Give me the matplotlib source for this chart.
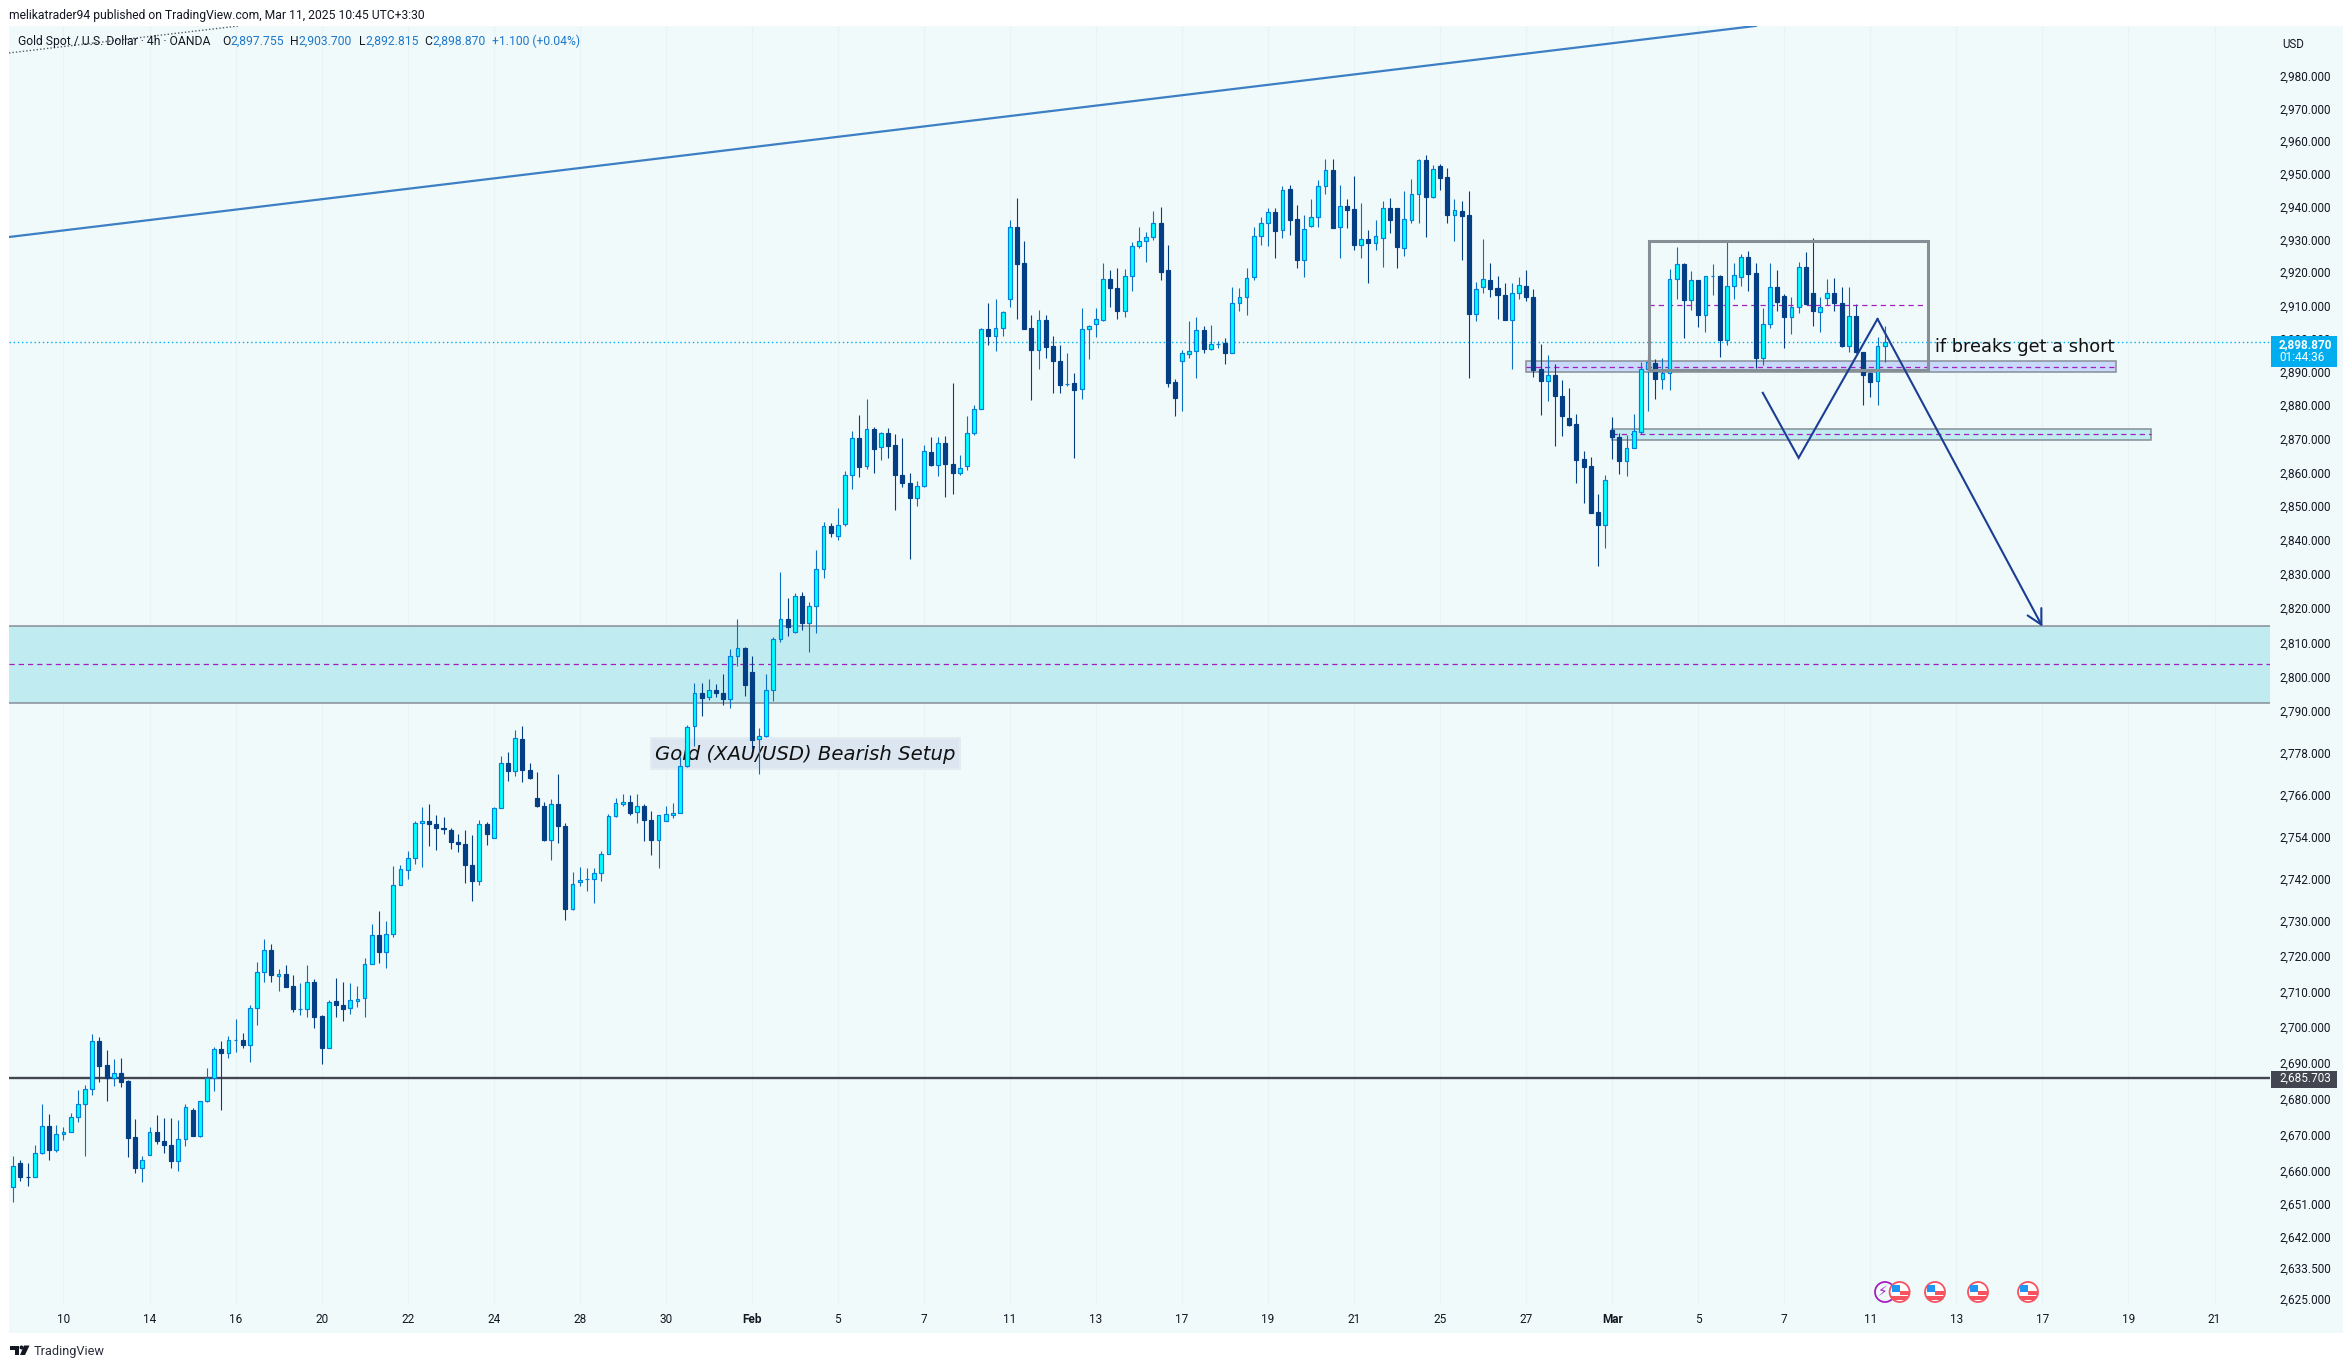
# -*- coding: utf-8 -*-
"""Gold Spot / U.S. Dollar 4h candlestick chart with bearish setup drawings."""

import matplotlib
matplotlib.use('Agg')
import matplotlib.pyplot as plt
import numpy as np
from matplotlib.patches import Circle, Polygon, Rectangle
from matplotlib.ticker import NullFormatter, NullLocator
from matplotlib.transforms import IdentityTransform

W, H = 2352, 1368
plt.rcParams['font.family'] = ['Roboto', 'DejaVu Sans']

opens = [
    2655.6, 2662.1, 2658.4, 2658.4, 2665.0, 2672.6, 2665.8, 2670.3, 2670.9, 2675.1,
    2678.5, 2682.7, 2696.1, 2689.4, 2685.8, 2687.2, 2685.0, 2669.3, 2660.9, 2664.5,
    2670.7, 2668.4, 2667.3, 2662.7, 2669.0, 2676.9, 2669.7, 2679.3, 2685.9, 2693.9,
    2692.8, 2696.3, 2696.4, 2695.0, 2705.3, 2715.4, 2721.8, 2714.3, 2714.9, 2711.5,
    2705.0, 2705.1, 2712.6, 2703.1, 2694.2, 2707.3, 2706.2, 2705.3, 2707.5, 2708.1,
    2717.9, 2726.0, 2721.3, 2726.3, 2740.1, 2744.3, 2747.7, 2757.9, 2758.4, 2757.6,
    2756.5, 2755.7, 2752.4, 2751.8, 2745.8, 2741.4, 2757.6, 2753.5, 2762.2, 2775.1,
    2772.8, 2781.9, 2773.0, 2765.0, 2762.7, 2752.9, 2763.3, 2757.0, 2733.4, 2741.0,
    2741.8, 2741.8, 2743.5, 2749.0, 2759.8, 2763.2, 2763.8, 2761.0, 2762.7, 2758.7,
    2752.9, 2758.4, 2760.1, 2760.7, 2774.1, 2785.6, 2795.3, 2794.1, 2796.2, 2795.3,
    2793.5, 2806.0, 2808.4, 2801.4, 2781.9, 2782.7, 2796.2, 2811.0, 2816.9, 2813.0,
    2823.5, 2815.7, 2820.5, 2831.4, 2844.2, 2841.1, 2844.6, 2859.2, 2870.2, 2861.8,
    2872.9, 2867.4, 2871.6, 2868.1, 2859.3, 2856.8, 2852.3, 2855.9, 2866.0, 2862.1,
    2868.7, 2862.5, 2859.7, 2861.8, 2871.8, 2879.0, 2902.8, 2900.9, 2903.1, 2911.8,
    2933.6, 2922.8, 2903.1, 2896.4, 2905.5, 2897.8, 2893.2, 2886.2, 2886.5, 2884.7,
    2902.8, 2904.5, 2905.7, 2917.9, 2915.2, 2908.2, 2918.8, 2927.9, 2929.6, 2930.6,
    2935.1, 2920.6, 2886.8, 2893.2, 2895.3, 2896.2, 2902.5, 2896.8, 2898.4, 2898.5,
    2895.6, 2910.7, 2912.5, 2918.5, 2930.9, 2934.9, 2938.2, 2932.7, 2945.2, 2936.1,
    2923.6, 2933.9, 2936.7, 2946.3, 2951.2, 2933.6, 2940.0, 2939.1, 2928.4, 2930.0,
    2929.0, 2930.5, 2939.4, 2939.4, 2927.5, 2936.0, 2943.9, 2954.2, 2942.9, 2952.5,
    2949.1, 2937.5, 2938.5, 2937.4, 2907.5, 2915.5, 2917.6, 2915.2, 2913.1, 2905.6,
    2913.7, 2915.8, 2912.5, 2890.8, 2887.3, 2888.9, 2882.9, 2876.2, 2874.4, 2863.9,
    2861.8, 2848.2, 2844.5, 2872.7, 2870.5, 2863.5, 2867.2, 2871.9, 2890.7, 2892.6,
    2887.9, 2889.5, 2917.9, 2922.5, 2911.5, 2917.6, 2907.0, 2918.8, 2918.9, 2899.7,
    2915.8, 2918.5, 2924.6, 2919.7, 2894.0, 2904.3, 2915.5, 2912.8, 2906.6, 2909.4,
    2921.6, 2913.7, 2908.0, 2912.2, 2913.7, 2910.7, 2897.6, 2906.7, 2895.9, 2889.6,
    2887.3, 2897.755,
]
highs = [
    2664.1, 2663.2, 2662.1, 2667.1, 2678.6, 2675.8, 2672.7, 2672.2, 2676.1, 2682.5,
    2683.9, 2698.2, 2697.3, 2693.7, 2691.2, 2691.5, 2685.3, 2674.4, 2664.3, 2672.2,
    2675.5, 2674.7, 2674.7, 2674.1, 2678.6, 2677.5, 2679.4, 2688.7, 2694.4, 2696.1,
    2697.5, 2702.4, 2698.4, 2706.2, 2718.2, 2724.7, 2723.3, 2716.3, 2717.5, 2714.7,
    2712.4, 2717.5, 2713.5, 2703.5, 2707.7, 2713.8, 2712.7, 2712.4, 2711.6, 2719.4,
    2729.2, 2732.8, 2730.0, 2745.6, 2745.9, 2749.9, 2758.5, 2762.3, 2763.4, 2760.2,
    2759.4, 2756.5, 2754.8, 2755.7, 2754.5, 2758.8, 2758.2, 2762.5, 2777.2, 2778.3,
    2784.6, 2785.8, 2775.1, 2772.6, 2763.7, 2764.8, 2772.0, 2757.7, 2743.9, 2745.4,
    2745.1, 2745.1, 2749.7, 2760.5, 2765.0, 2766.2, 2765.9, 2766.2, 2763.3, 2761.3,
    2760.2, 2762.8, 2763.6, 2776.7, 2785.9, 2798.3, 2798.3, 2799.4, 2798.0, 2800.9,
    2808.1, 2816.9, 2808.7, 2806.1, 2785.1, 2800.9, 2811.6, 2830.6, 2822.9, 2824.4,
    2824.7, 2821.7, 2837.1, 2845.4, 2845.1, 2849.3, 2860.4, 2872.2, 2877.0, 2882.0,
    2873.5, 2872.0, 2873.2, 2871.4, 2870.2, 2859.9, 2857.5, 2868.2, 2870.5, 2870.5,
    2870.8, 2886.5, 2865.2, 2876.7, 2880.0, 2903.2, 2910.8, 2912.0, 2908.3, 2935.9,
    2942.5, 2929.4, 2907.2, 2908.7, 2907.2, 2900.8, 2898.1, 2895.7, 2889.6, 2909.3,
    2904.1, 2909.3, 2922.9, 2920.7, 2921.3, 2921.0, 2929.2, 2933.7, 2932.2, 2938.6,
    2939.8, 2928.3, 2887.8, 2896.6, 2905.2, 2906.5, 2903.8, 2904.1, 2899.2, 2900.1,
    2915.5, 2915.3, 2921.2, 2933.7, 2936.7, 2939.5, 2939.5, 2946.4, 2946.7, 2940.4,
    2937.4, 2942.2, 2948.2, 2954.6, 2954.6, 2946.7, 2942.2, 2949.4, 2941.0, 2932.8,
    2935.9, 2941.6, 2942.5, 2939.5, 2944.6, 2948.5, 2954.4, 2955.8, 2952.8, 2953.1,
    2951.9, 2942.2, 2941.6, 2944.6, 2917.1, 2930.1, 2922.9, 2919.0, 2916.8, 2916.8,
    2918.6, 2920.7, 2915.0, 2898.4, 2895.1, 2892.3, 2887.5, 2885.1, 2877.5, 2866.4,
    2864.6, 2853.6, 2859.2, 2876.6, 2871.6, 2871.2, 2877.5, 2892.9, 2895.1, 2893.9,
    2894.2, 2921.0, 2927.7, 2922.9, 2920.4, 2917.7, 2918.9, 2922.6, 2919.2, 2929.8,
    2922.9, 2925.6, 2926.5, 2922.9, 2909.3, 2922.9, 2920.7, 2913.4, 2912.6, 2923.2,
    2926.2, 2930.4, 2912.6, 2918.0, 2918.3, 2915.6, 2915.6, 2910.4, 2896.0, 2890.0,
    2900.5, 2903.7,
]
lows = [
    2651.6, 2657.4, 2655.8, 2658.3, 2664.6, 2663.0, 2665.3, 2668.6, 2670.8, 2673.6,
    2664.1, 2681.2, 2684.8, 2679.5, 2683.7, 2683.4, 2663.9, 2659.4, 2656.9, 2664.4,
    2667.5, 2665.0, 2660.8, 2659.9, 2666.9, 2669.6, 2669.5, 2679.2, 2682.3, 2677.0,
    2691.3, 2693.2, 2694.1, 2690.4, 2700.5, 2712.8, 2712.8, 2710.3, 2711.3, 2704.4,
    2703.3, 2703.0, 2699.7, 2689.6, 2694.1, 2703.0, 2701.8, 2703.6, 2705.8, 2703.0,
    2717.8, 2718.1, 2716.7, 2725.4, 2740.0, 2741.9, 2746.2, 2745.4, 2751.2, 2750.2,
    2754.8, 2750.5, 2749.4, 2740.8, 2735.6, 2740.2, 2751.4, 2753.4, 2762.1, 2770.0,
    2771.4, 2769.7, 2770.5, 2762.5, 2752.8, 2747.4, 2752.2, 2730.3, 2733.0, 2739.8,
    2738.3, 2734.9, 2741.2, 2748.9, 2759.4, 2762.6, 2760.2, 2757.7, 2752.6, 2748.6,
    2744.9, 2758.3, 2759.2, 2760.6, 2774.0, 2780.0, 2788.5, 2793.2, 2794.0, 2791.7,
    2790.8, 2803.0, 2794.3, 2779.0, 2771.9, 2782.6, 2792.9, 2810.1, 2812.0, 2812.6,
    2813.5, 2807.1, 2812.6, 2828.9, 2841.0, 2839.9, 2844.0, 2855.2, 2858.7, 2860.9,
    2859.9, 2863.8, 2864.3, 2849.0, 2855.8, 2834.3, 2850.0, 2855.8, 2862.0, 2859.0,
    2852.6, 2853.5, 2859.1, 2860.6, 2871.2, 2878.9, 2898.1, 2896.3, 2900.8, 2909.6,
    2906.0, 2902.8, 2881.5, 2890.8, 2894.2, 2883.7, 2883.7, 2885.8, 2864.4, 2881.8,
    2893.7, 2900.5, 2905.4, 2909.6, 2906.0, 2906.5, 2914.4, 2927.4, 2923.2, 2929.8,
    2917.8, 2885.5, 2876.7, 2878.4, 2894.0, 2888.2, 2895.5, 2896.4, 2897.1, 2892.2,
    2895.5, 2908.4, 2907.2, 2917.8, 2928.3, 2928.0, 2924.2, 2930.4, 2931.3, 2921.3,
    2918.6, 2933.8, 2933.7, 2943.7, 2933.4, 2924.2, 2933.4, 2926.9, 2924.2, 2916.8,
    2926.9, 2921.7, 2931.9, 2921.3, 2925.0, 2934.9, 2934.9, 2930.7, 2942.6, 2944.9,
    2934.9, 2929.5, 2923.8, 2888.1, 2905.3, 2913.8, 2912.6, 2906.0, 2905.5, 2890.8,
    2912.0, 2911.2, 2888.4, 2877.0, 2881.3, 2867.7, 2870.9, 2873.7, 2856.7, 2850.8,
    2848.0, 2832.3, 2837.7, 2864.1, 2859.4, 2858.8, 2867.1, 2871.4, 2878.3, 2881.9,
    2884.9, 2884.6, 2912.0, 2900.2, 2908.5, 2903.6, 2902.1, 2913.0, 2894.3, 2897.9,
    2911.8, 2915.9, 2914.4, 2891.1, 2892.0, 2903.3, 2908.4, 2897.0, 2901.5, 2907.8,
    2910.3, 2903.8, 2902.1, 2910.1, 2908.4, 2897.5, 2895.8, 2895.7, 2880.0, 2882.4,
    2880.0, 2892.815,
]
closes = [
    2661.5, 2658.3, 2658.3, 2665.1, 2672.5, 2665.8, 2670.3, 2670.9, 2675.1, 2678.5,
    2682.7, 2696.1, 2689.3, 2685.8, 2687.2, 2684.8, 2669.2, 2660.8, 2663.1, 2670.7,
    2668.3, 2667.2, 2662.7, 2669.0, 2677.7, 2669.7, 2679.3, 2685.9, 2693.9, 2692.7,
    2696.4, 2696.4, 2694.9, 2705.3, 2715.4, 2721.6, 2714.8, 2714.9, 2711.4, 2705.0,
    2705.1, 2712.6, 2703.0, 2694.1, 2707.2, 2706.1, 2705.2, 2707.6, 2707.9, 2717.8,
    2726.0, 2721.2, 2726.3, 2740.1, 2744.7, 2747.7, 2757.9, 2758.4, 2757.5, 2756.3,
    2756.1, 2752.3, 2751.7, 2745.7, 2741.4, 2757.6, 2754.6, 2762.2, 2775.1, 2772.7,
    2782.2, 2773.0, 2770.6, 2762.6, 2752.9, 2763.3, 2756.9, 2733.4, 2740.4, 2741.6,
    2741.8, 2743.5, 2749.0, 2759.8, 2763.5, 2763.8, 2760.6, 2762.7, 2758.6, 2752.9,
    2760.1, 2760.4, 2760.7, 2774.1, 2785.5, 2795.3, 2793.7, 2796.2, 2795.2, 2793.4,
    2805.9, 2808.3, 2797.5, 2781.7, 2782.7, 2796.2, 2811.0, 2816.9, 2814.4, 2823.5,
    2815.6, 2820.5, 2831.4, 2844.1, 2842.2, 2844.4, 2859.2, 2870.1, 2861.7, 2872.8,
    2867.0, 2871.6, 2867.9, 2859.1, 2856.7, 2852.3, 2856.0, 2866.3, 2862.1, 2868.7,
    2862.4, 2859.7, 2861.3, 2871.6, 2879.0, 2902.8, 2900.9, 2903.1, 2908.0, 2933.6,
    2922.6, 2902.9, 2896.4, 2905.5, 2897.3, 2893.1, 2886.1, 2886.3, 2884.5, 2902.8,
    2903.7, 2905.8, 2917.9, 2915.1, 2908.2, 2918.8, 2928.1, 2929.6, 2930.6, 2935.1,
    2920.2, 2886.7, 2882.2, 2895.5, 2896.2, 2902.5, 2896.7, 2898.3, 2898.4, 2895.5,
    2910.7, 2912.5, 2918.4, 2930.9, 2935.1, 2938.2, 2932.6, 2945.0, 2936.0, 2923.6,
    2933.0, 2936.7, 2946.3, 2951.2, 2933.5, 2940.2, 2939.0, 2928.4, 2930.0, 2929.0,
    2930.9, 2939.4, 2936.0, 2927.8, 2936.1, 2943.9, 2954.2, 2942.9, 2951.5, 2948.8,
    2937.5, 2938.8, 2937.2, 2907.5, 2914.9, 2917.9, 2915.0, 2913.0, 2905.6, 2913.7,
    2916.1, 2912.4, 2890.6, 2887.2, 2888.9, 2882.8, 2876.7, 2874.2, 2863.7, 2861.7,
    2848.1, 2844.5, 2857.7, 2870.4, 2863.5, 2867.2, 2872.3, 2890.7, 2892.9, 2887.9,
    2889.5, 2917.9, 2922.5, 2911.5, 2917.6, 2907.0, 2918.8, 2918.8, 2899.7, 2915.8,
    2919.1, 2924.6, 2919.6, 2894.0, 2904.3, 2915.5, 2910.9, 2906.6, 2909.4, 2921.6,
    2910.4, 2908.2, 2909.4, 2913.7, 2910.6, 2897.6, 2906.7, 2895.8, 2889.1, 2887.0,
    2897.7, 2898.87,
]

# axis labels
date_labels = ['10', '14', '16', '20', '22', '24', '28', '30', 'Feb', '5', '7', '11', '13',
               '17', '19', '21', '25', '27', 'Mar', '5', '7', '11', '13', '17', '19', '21']
date_bars = [7 + 12 * k for k in range(len(date_labels))]
price_ticks = [2980, 2970, 2960, 2950, 2940, 2930, 2920, 2910, 2900, 2890, 2880, 2870, 2860,
               2850, 2840, 2830, 2820, 2810, 2800, 2790, 2778, 2766, 2754, 2742, 2730, 2720,
               2710, 2700, 2690, 2680, 2670, 2660, 2651, 2642, 2633.5, 2625]

# drawings, as (bar, price)
trend_line = ([-0.6, 243], [2930.7, 2995.6])
dotted_line = ([-0.6, 31.5], [2987.2, 2995.6])
last_price = 2898.87
support_price = 2685.703
big_zone = (2792.4, 2803.7, 2814.7)
purple_zone = (211, 293.2, 2889.8, 2891.4, 2893.1)
cyan_zone = (223, 298.1, 2869.5, 2871.3, 2873.0)
range_box = (228.1, 267.1, 2890.6, 2910.0, 2929.5)
zigzag_bars = [244, 249, 260, 283]
zigzag_prices = [2883.7, 2864.3, 2905.9, 2814.6]

BG = '#f0fafb'
UP_FILL = '#00ffff'
UP_EDGE = '#0080dc'
UP_WICK = '#0b70c0'
DOWN = '#043f85'
PURPLE = '#a31fc0'
ZONE_EDGE = '#868e96'
NAVY = '#1b3d94'
INK = '#131722'
DASH = (0, (4.2, 3.2))


def fig_text(fig, x, y, s, **kw):
    kw.setdefault('va', 'center')
    kw.setdefault('color', INK)
    kw.setdefault('fontsize', 8.7)
    return fig.text(x / W, 1 - y / H, s, **kw)


def draw_candles(ax):
    o, h, l, c = map(np.array, (opens, highs, lows, closes))
    x = np.arange(len(o))
    up = c >= o
    ax.vlines(x[up], l[up], h[up], color=UP_WICK, lw=0.8, zorder=3)
    ax.vlines(x[~up], l[~up], h[~up], color=DOWN, lw=0.8, zorder=3)
    ax.bar(x[up], (c - o)[up], bottom=o[up], width=0.52, color=UP_FILL,
           edgecolor=UP_EDGE, linewidth=0.85, zorder=4)
    ax.bar(x[~up], (c - o)[~up], bottom=o[~up], width=0.56, color=DOWN,
           edgecolor=DOWN, linewidth=0.85, zorder=4)


def draw_zone(ax, x0, x1, low, mid, high, color):
    ax.add_patch(Rectangle((x0, low), x1 - x0, high - low, fc=color, ec=ZONE_EDGE, lw=1.1, zorder=2))
    ax.plot([x0, x1], [mid, mid], color=PURPLE, lw=0.9, ls=DASH, zorder=2.5)


def us_flag(ax, cx, cy):
    y = H - cy
    tr = IdentityTransform()
    disc = Circle((cx, y), 10, fc='white', ec='#f7525f', lw=1.3, transform=tr, zorder=8)
    ax.add_patch(disc)
    for x0, y0, w, h, col in [(cx - 8, y + 0.5, 8, 7, '#2196f3'),
                              (cx, y - 2.5, 9, 4, '#f7525f'),
                              (cx - 9, y - 8, 18, 4, '#f7525f')]:
        part = Rectangle((x0, y0), w, h, fc=col, ec='none', transform=tr, zorder=8.5)
        ax.add_patch(part)
        part.set_clip_path(disc)


fig = plt.figure(figsize=(W / 100, H / 100), dpi=100, facecolor='white')
fig.add_artist(Rectangle((9 / W, 1 - 1333 / H), 2334 / W, 1307 / H, fc=BG, ec='none',
                         transform=fig.transFigure, zorder=-1))

ax = fig.add_axes([9 / W, 1 - 1305 / H, 2261 / W, 1279 / H], facecolor=BG)
ax.set_yscale('log')
ax.set_xlim(-0.6, 314.74)
ax.set_ylim(2623.3, 2995.57)
for side in ax.spines.values():
    side.set_visible(False)

ax.yaxis.tick_right()
ax.set_yticks(price_ticks)
ax.set_yticklabels([f'{p:,.3f}' for p in price_ticks], fontsize=8.5, color=INK)
ax.yaxis.set_minor_locator(NullLocator())
ax.yaxis.set_minor_formatter(NullFormatter())
ax.set_xticks(date_bars)
ax.set_xticklabels(date_labels, fontsize=8.5, color=INK)
for lab in ax.get_xticklabels():
    if lab.get_text() in ('Feb', 'Mar'):
        lab.set_fontweight('bold')
ax.tick_params(axis='both', length=0)
ax.tick_params(axis='y', pad=6.5)
ax.tick_params(axis='x', pad=6)
ax.grid(axis='x', color='#e7f3f5', lw=0.8, zorder=0)
ax.set_axisbelow(True)

# big zone runs edge to edge, only top and bottom lines
x_left, x_right = ax.get_xlim()
ax.axhspan(big_zone[0], big_zone[2], fc='#c0ecf1', ec='none', zorder=2)
ax.axhline(big_zone[0], color=ZONE_EDGE, lw=1.1, zorder=2.1)
ax.axhline(big_zone[2], color=ZONE_EDGE, lw=1.1, zorder=2.1)
ax.axhline(big_zone[1], color=PURPLE, lw=0.9, ls=DASH, zorder=2.5)
draw_zone(ax, purple_zone[0], purple_zone[1], purple_zone[2], purple_zone[3], purple_zone[4], '#c9d9fb')
draw_zone(ax, cyan_zone[0], cyan_zone[1], cyan_zone[2], cyan_zone[3], cyan_zone[4], '#c0ecf1')

# trend lines and price lines
ax.plot(trend_line[0], trend_line[1], color='#3d7fc4', lw=1.6, zorder=2)
ax.plot(dotted_line[0], dotted_line[1], color='#555b66', lw=1.0, ls=(0, (1, 1.5)), zorder=2)
ax.axhline(last_price, color='#00aeef', lw=1.0, ls=(0, (1, 2)), zorder=2.6)
ax.axhline(support_price, color='#434651', lw=1.7, zorder=2.6)

# label sits under the candles
screen = IdentityTransform()
ax.add_patch(Rectangle((649.5, H - 769.5), 311.5, 32.5, fc='#e3ecf1', ec='none', transform=screen, zorder=2.7))
ax.add_patch(Rectangle((651.5, H - 767.5), 307.5, 28.5, fc='#dbe6f0', ec='none', transform=screen, zorder=2.75))
ax.text(805.5, H - 754, 'Gold (XAU/USD) Bearish Setup', family=['DejaVu Sans'], style='italic', fontsize=14.1,
        color='#111111', ha='center', va='center', transform=screen, zorder=2.8)

draw_candles(ax)

# grey range box
ax.add_patch(Rectangle((range_box[0], range_box[2]), range_box[1] - range_box[0],
                       range_box[4] - range_box[2], fc='none', ec=ZONE_EDGE, lw=2.2, zorder=5))
ax.plot(range_box[:2], [range_box[3], range_box[3]], color=PURPLE, lw=0.9, ls=DASH, zorder=3.5)

# zigzag and arrow
ax.plot(zigzag_bars[:3], zigzag_prices[:3], color=NAVY, lw=1.5, zorder=6, solid_joinstyle='miter')
ax.annotate('', xy=(zigzag_bars[3], zigzag_prices[3]), xytext=(zigzag_bars[2], zigzag_prices[2]),
            arrowprops=dict(arrowstyle='->,head_length=0.75,head_width=0.4', color=NAVY, lw=1.5,
                            mutation_scale=14, shrinkA=0, shrinkB=0), zorder=6)

ax.text(268.0, 2897.4, 'if breaks get a short', family=['DejaVu Sans'], fontsize=12.8, color='#111111',
        va='center', ha='left', zorder=6)

# price boxes on the axis
y_trans = ax.get_yaxis_transform()
ax.add_patch(Rectangle((1.0004, 2891.4), 66 / 2261, 2900.8 - 2891.4, fc='#00aeef', ec='none',
                       transform=y_trans, clip_on=False, zorder=7))
ax.text(1 + 35.5 / 2261, 2898.3, f'{last_price:,.3f}', transform=y_trans, color='white', fontsize=8.5,
        fontweight='bold', ha='center', va='center', clip_on=False, zorder=8)
ax.text(1 + 9 / 2261, 2894.2, '01:44:36', transform=y_trans, color='white', fontsize=8.5,
        ha='left', va='center', clip_on=False, zorder=8)
ax.add_patch(Rectangle((1.0004, 2683.0), 66 / 2261, 2687.8 - 2683.0, fc='#434651', ec='none',
                       transform=y_trans, clip_on=False, zorder=7))
ax.text(1 + 35.5 / 2261, support_price, f'{support_price:,.3f}', transform=y_trans, color='white',
        fontsize=8.5, ha='center', va='center', clip_on=False, zorder=8)

# event icons
bolt = Circle((1885, H - 1292), 10, fc=BG, ec=PURPLE, lw=1.3, transform=screen, zorder=7)
ax.add_patch(bolt)
ax.text(1883, H - 1292, '\u26a1', transform=screen, family=['DejaVu Sans'], fontsize=10,
        color=PURPLE, ha='center', va='center', zorder=7.5)
for icon_x in (1899.6, 1935, 1978, 2028):
    us_flag(ax, icon_x, 1292)

# header and legend
fig_text(fig, 9, 15, 'melikatrader94 published on TradingView.com, Mar 11, 2025 10:45 UTC+3:30')
fig_text(fig, 18, 41.7, 'Gold Spot / U.S. Dollar \u00b7 4h \u00b7 OANDA')
for x_key, key, x_val, val in [(222, 'O', 230, '2,897.755'), (290, 'H', 298, '2,903.700'),
                               (358.5, 'L', 365, '2,892.815'), (424, 'C', 432, '2,898.870')]:
    fig_text(fig, x_key, 41.7, key)
    fig_text(fig, x_val, 41.7, val, color='#1f78c8')
fig_text(fig, 491.5, 41.7, '+1.100 (+0.04%)', color='#1f78c8')
fig_text(fig, 2293, 44, 'USD', ha='center', fontsize=8.3)

# footer logo
fig.add_artist(Polygon(np.array([[10, 1345.5], [19, 1345.5], [19, 1355], [14.5, 1355], [14.5, 1349.5], [10, 1349.5]])
                       / [W, -H] + [0, 1], fc=INK, ec='none', transform=fig.transFigure))
fig.add_artist(Polygon(np.array([[24, 1345.5], [29.5, 1345.5], [25, 1355], [20, 1355]])
                       / [W, -H] + [0, 1], fc=INK, ec='none', transform=fig.transFigure))
fig.add_artist(Circle((21.5, H - 1347.5), 2, fc=INK, ec='none', transform=IdentityTransform()))
fig_text(fig, 34, 1351, 'TradingView', fontsize=9.2, color='#2a2e39')

fig.savefig('out.png', dpi=100)
